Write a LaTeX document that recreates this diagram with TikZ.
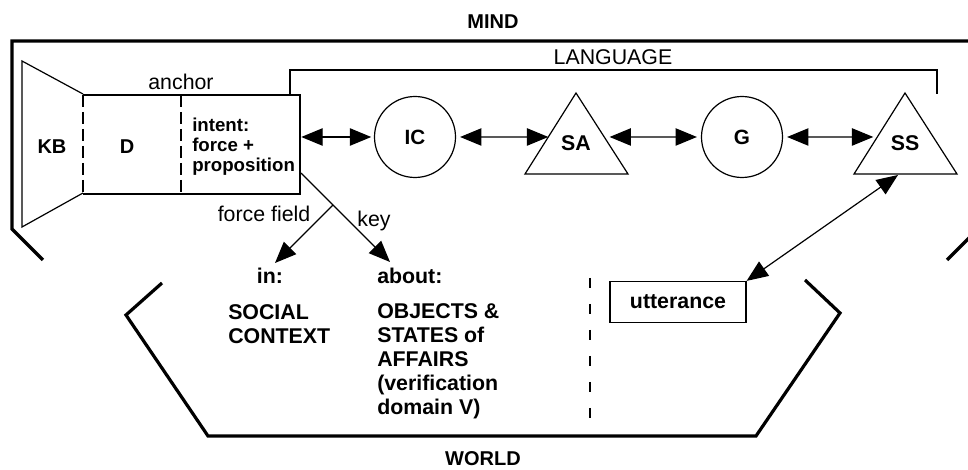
\documentclass[tikz,border=0pt]{standalone}
\usepackage{fontspec}
\setmainfont{Liberation Sans}
\usetikzlibrary{arrows.meta,calc}
\begin{document}
\begin{tikzpicture}[x=0.75pt,y=-0.75pt,
  thinline/.style={line width=0.9pt},
  frame/.style={line width=2.4pt, line cap=butt, line join=miter},
  boxdash/.style={line width=0.9pt, dash pattern=on 9pt off 3.75pt},
  sepdash/.style={line width=0.9pt, dash pattern=on 7.5pt off 12pt},
  onetip/.style={line width=0.9pt, -{Triangle[length=16pt,width=13pt]}},
  dbl/.style={line width=0.9pt, {Triangle[length=16pt,width=13pt]}-{Triangle[length=16pt,width=13pt]}},
  lbl/.style={font=\fontsize{16}{16}\selectfont, inner sep=0pt},
  blbl/.style={font=\fontsize{15}{15}\selectfont\bfseries, inner sep=0pt},
  wlbl/.style={font=\fontsize{16}{16}\selectfont\bfseries, inner sep=0pt},
  roundnode/.style={circle, draw, line width=0.9pt, minimum size=60.75pt, inner sep=0pt,
    font=\fontsize{15.5}{15.5}\selectfont\bfseries}
]
\clip (0,0) rectangle (968,470);

% MIND frame
\draw[frame] (43,260) -- (12,229) -- (12,41) -- (978,41) -- (978,229) -- (947,260);
\node[blbl] (mind) at (493,22) {MIND};

% WORLD frame
\draw[frame] (162,283) -- (126,315) -- (208,436) -- (756,436) -- (840,313) -- (805,280);
\node[blbl] (world) at (483,459) {WORLD};

% LANGUAGE bracket
\draw[thinline] (290,95) -- (290,70) -- (937,70) -- (937,94);
\node[lbl] (language) at (613,57) {LANGUAGE};

% KB trapezoid and the D / intent box
\draw[thinline] (83,94) -- (22,61) -- (22,227) -- (83,193);
\draw[thinline] (83,95) -- (300,95) -- (300,194) -- (83,194);
\draw[boxdash] (83,95) -- (83,194);
\draw[boxdash] (181,95) -- (181,194);
\node[inner sep=0pt, minimum width=162.75pt, minimum height=74.25pt] (box) at (191.5,144.5) {};
\node[lbl] (anchorlbl) at (181,82) {anchor};
\node[blbl] (kb) at (52,147) {KB};
\node[blbl] (d) at (127,147) {D};
\node[blbl, anchor=west, align=left, font=\fontsize{14}{15}\selectfont\bfseries] (intent) at (192,147)
  {intent:\\force +\\proposition};

% language chain
\node[roundnode] (ic) at (415,137) {IC};
\node[roundnode] (g) at (742,137) {G};

\coordinate (SAt) at (576,93); \coordinate (SAl) at (525,174); \coordinate (SAr) at (628,174);
\coordinate (SSt) at (905,93); \coordinate (SSl) at (854,174); \coordinate (SSr) at (957,174);
\draw[thinline, line join=miter] (SAt) -- (SAl) -- (SAr) -- cycle;
\draw[thinline, line join=miter] (SSt) -- (SSl) -- (SSr) -- cycle;
\node[wlbl] (sa) at (576,143) {SA};
\node[wlbl] (ss) at (905,143) {SS};

\coordinate (SAw) at ($(SAt)!0.543!(SAl)$);
\coordinate (SAe) at ($(SAt)!0.543!(SAr)$);
\coordinate (SSw) at ($(SSt)!0.543!(SSl)$);
\coordinate (SSb) at (898,175);

\draw[dbl, shorten <=0.75pt, shorten >=2pt] (box.east |- ic) -- (ic);
\draw[dbl, shorten <=3pt, shorten >=0pt] (ic) -- (SAw);
\draw[dbl, shorten <=4pt, shorten >=3pt] (SAe) -- (g);
\draw[dbl, shorten <=3pt, shorten >=3pt] (g) -- (SSw);

% utterance
\node[draw, thinline, minimum width=102pt, minimum height=30.75pt, inner sep=0pt,
  font=\fontsize{16}{16}\selectfont\bfseries] (utt) at (678,302) {utterance};
\draw[dbl] (utt.north east) -- (SSb);

% key and force field
\coordinate (keyfrom) at (301,173);
\coordinate (abouttip) at (390,262);
\coordinate (intip) at (275,263);
\draw[onetip] (keyfrom) -- (abouttip);
\draw[onetip] ($(keyfrom)!0.36!(abouttip)$) -- (intip);
\node[lbl] (forcefield) at (264,214) {force field};
\node[lbl] (key) at (374,221) {key};

% world contents
\node[wlbl] (in) at (270,276) {in:};
\node[wlbl, anchor=west] (about) at (377,276) {about:};
\node[wlbl, anchor=west, align=left, font=\fontsize{16}{17.5}\selectfont\bfseries] (social) at (228,324)
  {SOCIAL\\CONTEXT};
\node[wlbl, anchor=west, align=left, font=\fontsize{16}{18}\selectfont\bfseries] (objects) at (377,361)
  {OBJECTS \&\\STATES of\\AFFAIRS\\(verification\\domain V)};

\draw[sepdash] (590,278) -- (590,432);
\end{tikzpicture}
\end{document}
